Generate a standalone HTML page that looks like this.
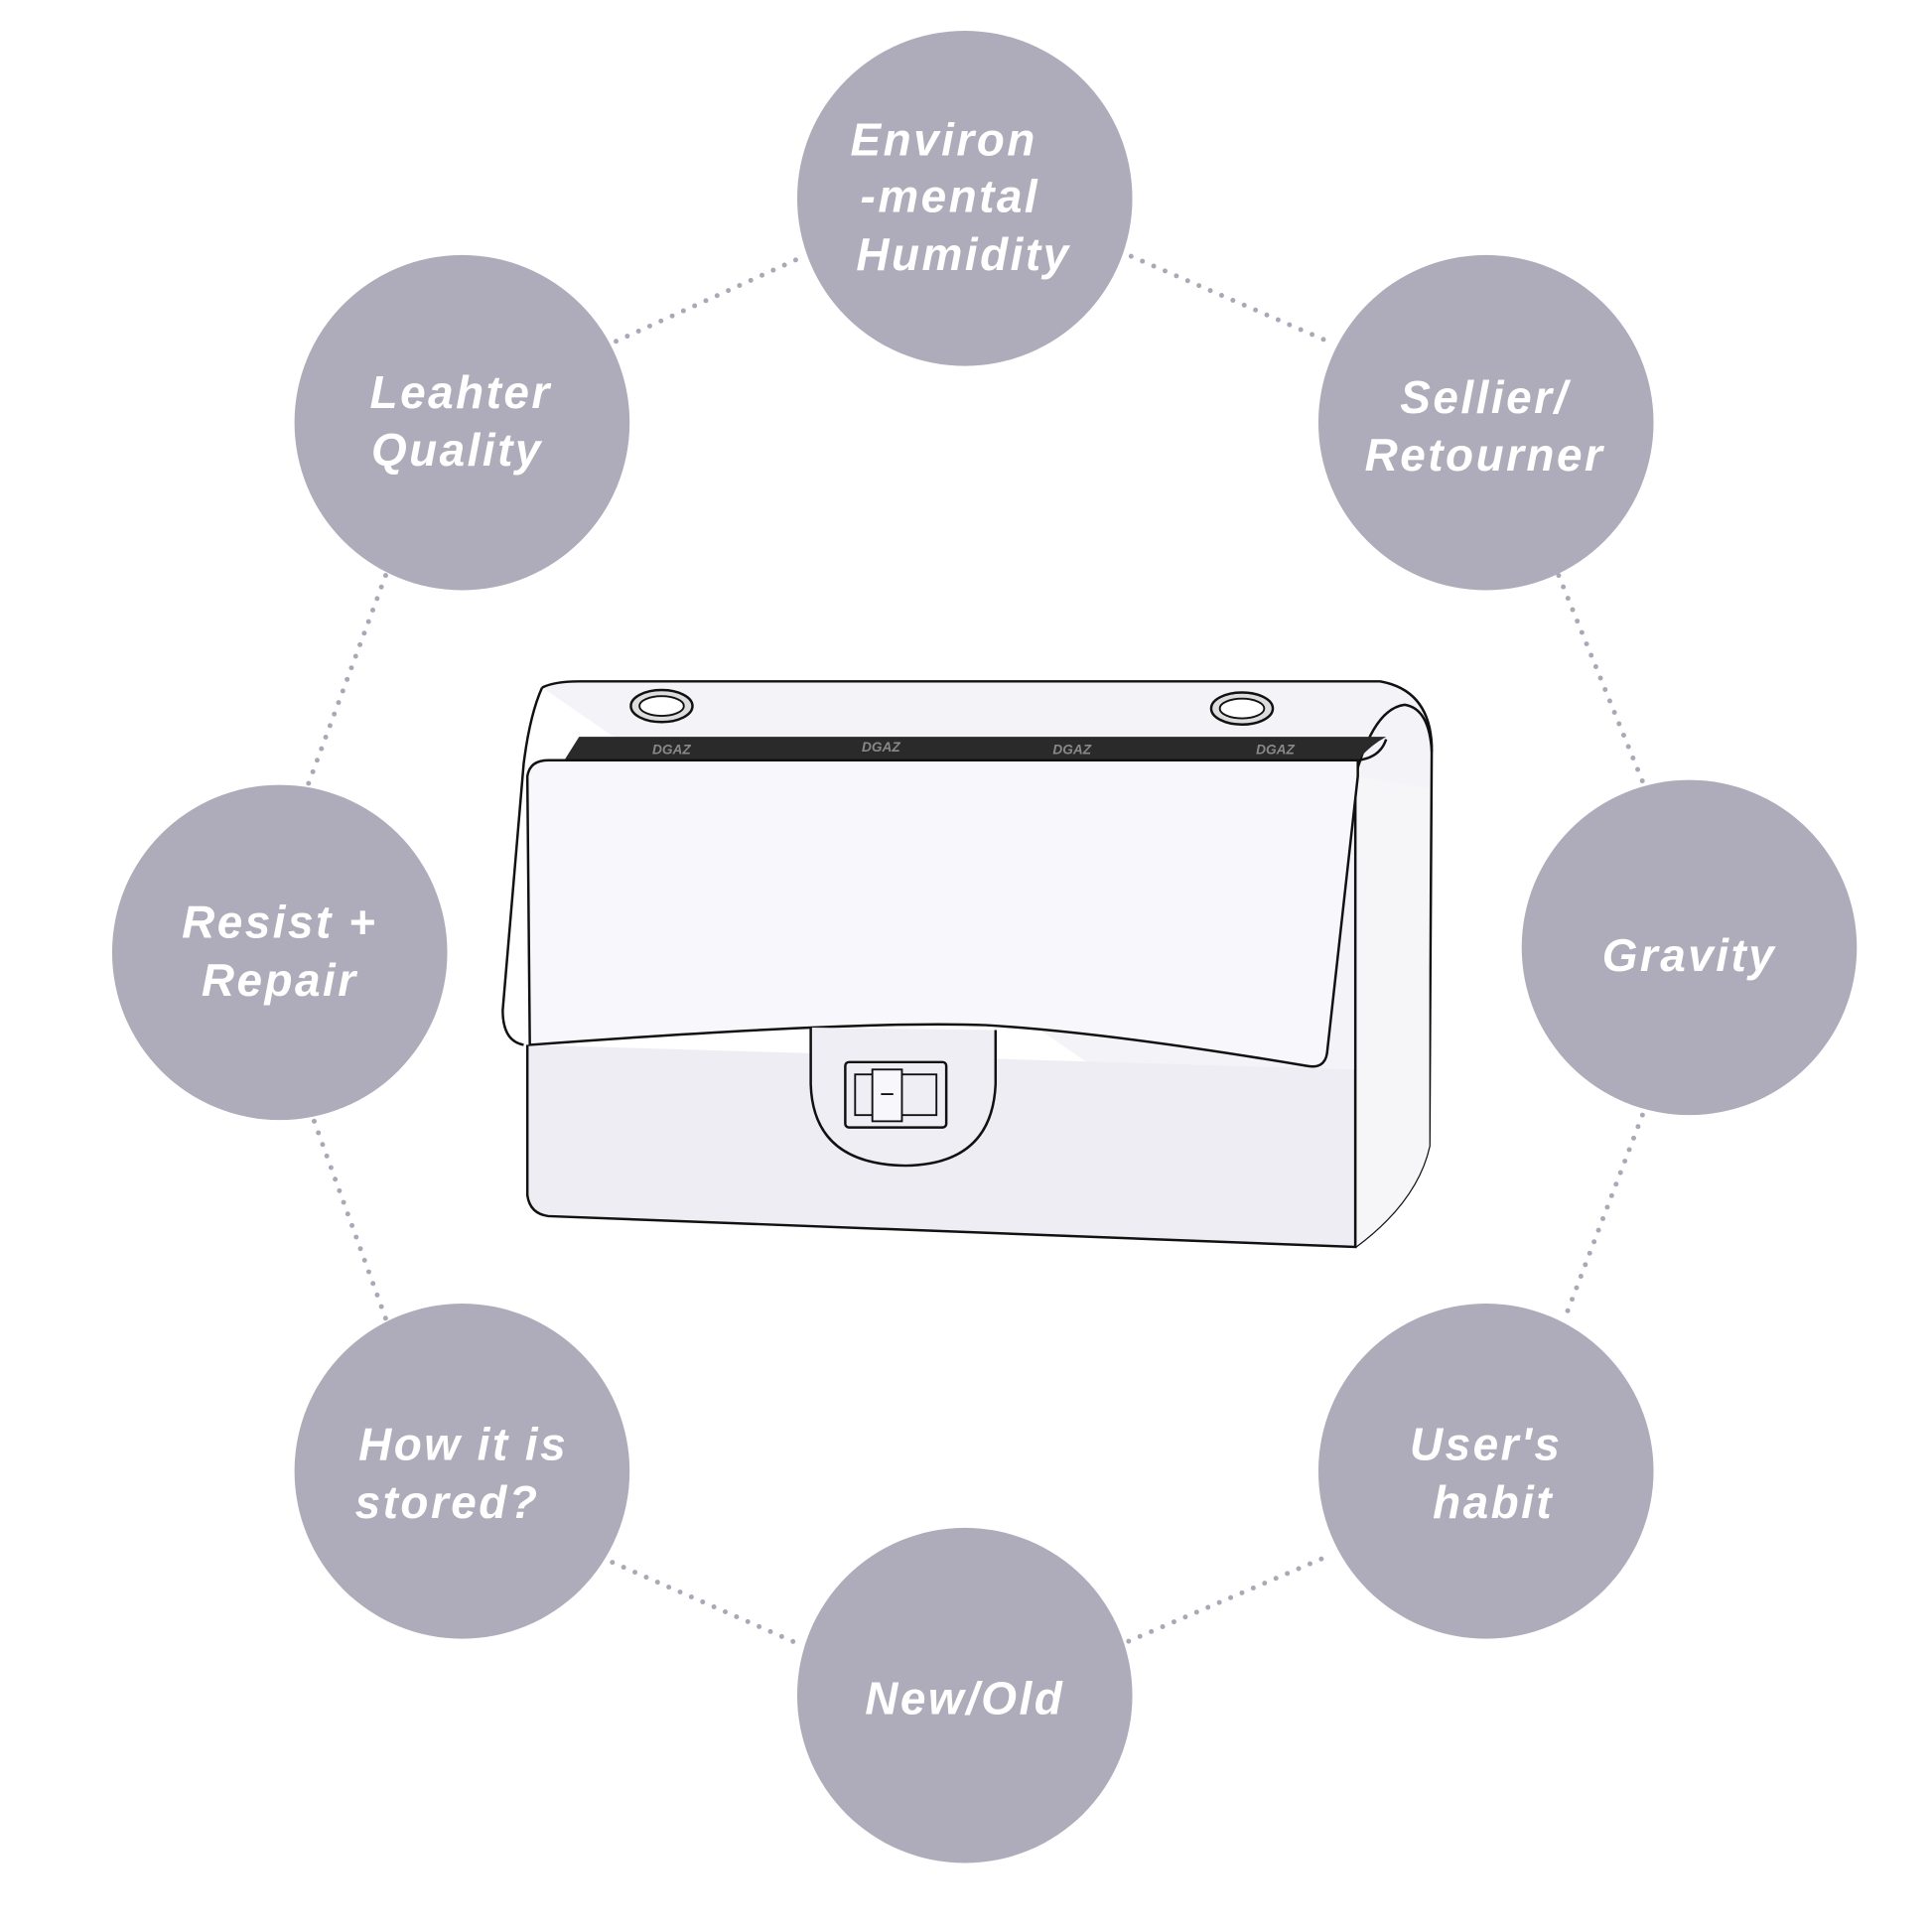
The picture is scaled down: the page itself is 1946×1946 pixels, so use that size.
<!DOCTYPE html>
<html><head><meta charset="utf-8"><style>
html,body{margin:0;padding:0;background:#fff;}
svg{display:block}
text{font-family:"Liberation Sans",sans-serif;font-weight:bold;font-style:italic;fill:#fff;font-size:37px;letter-spacing:2px;text-anchor:middle}
</style></head><body>
<svg width="1946" height="1946" viewBox="0 0 1568 1568" xmlns="http://www.w3.org/2000/svg">
<g stroke="#a9a8b6" stroke-width="4" stroke-linecap="round" stroke-dasharray="0 10" fill="none">
<line x1="500" y1="277" x2="648" y2="210"/>
<line x1="918" y1="208" x2="1080" y2="278"/>
<line x1="313" y1="467" x2="250" y2="637"/>
<line x1="1265" y1="467" x2="1333" y2="634"/>
<line x1="255" y1="910" x2="313" y2="1070"/>
<line x1="1333" y1="905" x2="1270" y2="1070"/>
<line x1="497" y1="1268" x2="650" y2="1335"/>
<line x1="916" y1="1332" x2="1080" y2="1262"/>
</g>
<g fill="#aeacba">
<circle cx="783" cy="161" r="136"/>
<circle cx="375" cy="343" r="136"/>
<circle cx="1206" cy="343" r="136"/>
<circle cx="227" cy="773" r="136"/>
<circle cx="1371" cy="769" r="136"/>
<circle cx="375" cy="1194" r="136"/>
<circle cx="1206" cy="1194" r="136"/>
<circle cx="783" cy="1376" r="136"/>
</g>
<text x="766" y="126">Environ</text>
<text x="771" y="172">-mental</text>
<text x="782" y="219">Humidity</text>
<text x="374" y="331">Leahter</text>
<text x="371" y="378">Quality</text>
<text x="1205" y="335">Sellier/</text>
<text x="1205" y="382">Retourner</text>
<text x="227" y="761">Resist +</text>
<text x="227" y="808">Repair</text>
<text x="1371" y="788">Gravity</text>
<text x="376" y="1185">How it is</text>
<text x="363" y="1232">stored?</text>
<text x="1206" y="1185">User's</text>
<text x="1212" y="1232">habit</text>
<text x="783" y="1391">New/Old</text>
<!-- bag -->
<g stroke="#111" stroke-width="2" fill="none">
<path d="M440 558 Q450 553 470 553 L1120 553 Q1160 560 1162 605 L1160 930 Q1150 975 1100 1012" fill="#f4f3f8"/>
<path d="M440 558 Q430 580 425 620 L408 820 Q408 845 425 848"/>
<path d="M1100 630 Q1115 575 1140 572 Q1160 575 1162 610"/>
</g>
<path d="M458 617 L470 598 L1125 598 Q1112 605 1102 617 Z" fill="#2a2a2a"/>
<g>
<text x="545" y="612" style="font-size:11px;fill:#888;letter-spacing:0">DGAZ</text>
<text x="715" y="610" style="font-size:11px;fill:#888;letter-spacing:0">DGAZ</text>
<text x="870" y="612" style="font-size:11px;fill:#888;letter-spacing:0">DGAZ</text>
<text x="1035" y="612" style="font-size:11px;fill:#888;letter-spacing:0">DGAZ</text>
</g>
<path d="M428 848 L428 970 Q430 985 445 987 L1100 1012 L1100 868" fill="#eeedf4" stroke="#111" stroke-width="2"/>
<path d="M1100 1012 Q1150 975 1160 930 L1160 640 L1100 630 Z" fill="#f6f6f9" stroke="none"/>
<path d="M1100 630 L1100 1012" stroke="#111" stroke-width="2"/>
<path d="M1102 617 L1102 630 L1077 855 Q1075 868 1060 865 Q900 838 800 832 Q700 828 430 848 L428 630 Q430 617 445 617 Z" fill="#f8f8fc" stroke="#111" stroke-width="2"/>
<path d="M1102 617 Q1120 615 1125 600" stroke="#111" stroke-width="2" fill="none"/>
<path d="M658 834 L658 880 Q660 945 735 946 Q805 945 808 880 L808 836" fill="#efeef5" stroke="#111" stroke-width="2"/>
<rect x="686" y="862" width="82" height="53" rx="3" fill="none" stroke="#111" stroke-width="2"/>
<rect x="694" y="872" width="66" height="33" fill="none" stroke="#111" stroke-width="1.5"/>
<rect x="708" y="868" width="24" height="42" fill="#f8f8fc" stroke="#111" stroke-width="1.5"/>
<line x1="715" y1="888" x2="725" y2="888" stroke="#111" stroke-width="1.5"/>
<ellipse cx="537" cy="573" rx="25" ry="13" fill="#ddd" stroke="#111" stroke-width="2"/>
<ellipse cx="537" cy="573" rx="18" ry="8" fill="#fff" stroke="#111" stroke-width="1.5"/>
<ellipse cx="1008" cy="575" rx="25" ry="13" fill="#ddd" stroke="#111" stroke-width="2"/>
<ellipse cx="1008" cy="575" rx="18" ry="8" fill="#fff" stroke="#111" stroke-width="1.5"/>
</svg>
</body></html>
